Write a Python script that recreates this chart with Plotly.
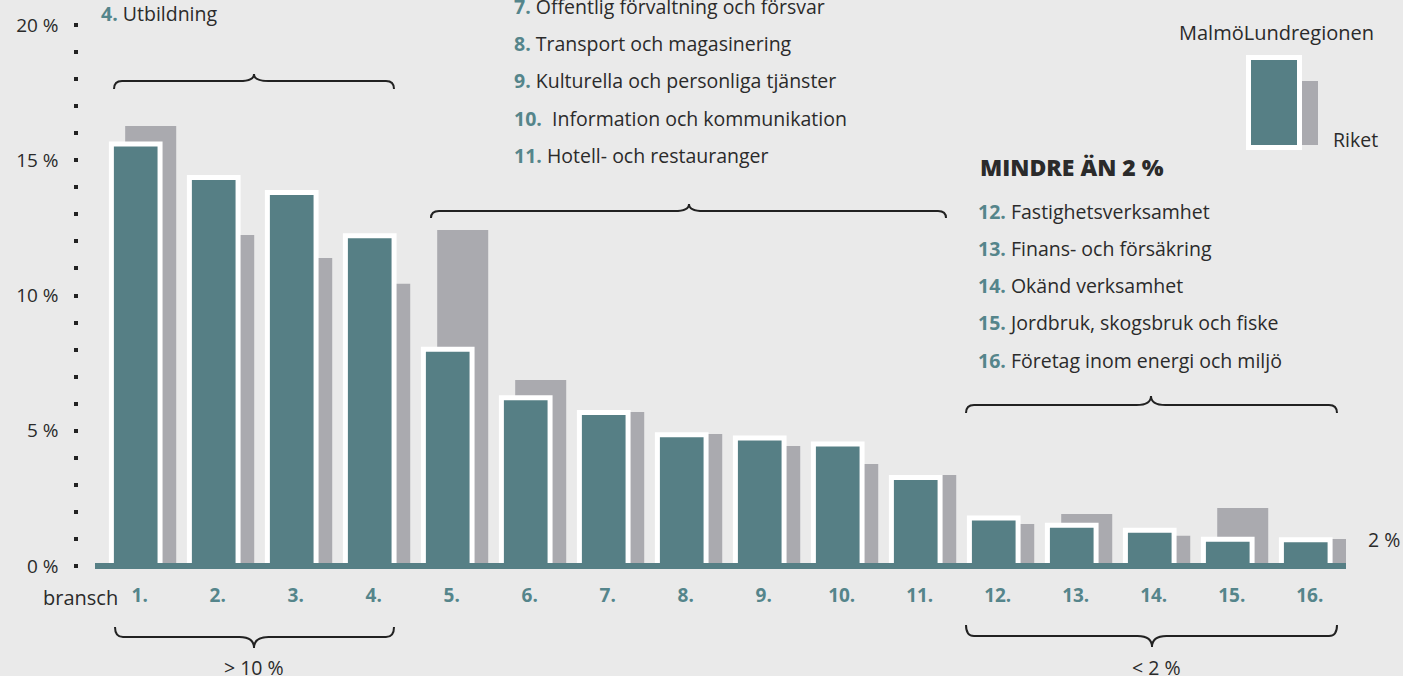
import plotly.graph_objects as go

# ── Data ──────────────────────────────────────────────────────────────────────
BRANSCH = list(range(1, 17))
BRANSCH_LABELS = [f"{i}." for i in BRANSCH]
MALMO_LUND = [15.6, 14.36, 13.81, 12.21, 8.01, 6.22, 5.67, 4.85,
              4.73, 4.51, 3.27, 1.77, 1.51, 1.32, 0.99, 0.97]
RIKET = [16.27, 12.24, 11.39, 10.43, 12.42, 6.88, 5.69, 4.88,
         4.44, 3.77, 3.36, 1.55, 1.92, 1.12, 2.14, 1.00]

TOP_LIST = [("4.", "Utbildning")]
MID_LIST = [("7.", "Offentlig förvaltning och försvar"),
            ("8.", "Transport och magasinering"),
            ("9.", "Kulturella och personliga tjänster"),
            ("10.", "&nbsp;Information och kommunikation"),
            ("11.", "Hotell- och restauranger")]
SMALL_LIST = [("12.", "Fastighetsverksamhet"),
              ("13.", "Finans- och försäkring"),
              ("14.", "Okänd verksamhet"),
              ("15.", "Jordbruk, skogsbruk och fiske"),
              ("16.", "Företag inom energi och miljö")]

# ── Style ─────────────────────────────────────────────────────────────────────
W, H = 1403, 676
BG = "#eaeaea"
TEAL = "#567f85"
NUM = "#55858b"
GRAY = "rgba(120,120,128,0.56)"
INK = "#2b2b2b"
FONT = "Open Sans, Noto Sans, sans-serif"
TXT = 19.5


def px(x):
    return x / W


def py(y):
    return 1 - y / H


def item(num, txt):
    return f"<b><span style='color:{NUM}'>{num}</span></b> {txt}"


def brace(x0, x1, xm, y_line, y_end, y_tip, r=8):
    p = [
        f"M {px(x0)},{py(y_end)}",
        f"Q {px(x0)},{py(y_line)} {px(x0 + r)},{py(y_line)}",
        f"L {px(xm - r * 1.8)},{py(y_line)}",
        f"Q {px(xm)},{py(y_line)} {px(xm)},{py(y_tip)}",
        f"Q {px(xm)},{py(y_line)} {px(xm + r * 1.8)},{py(y_line)}",
        f"L {px(x1 - r)},{py(y_line)}",
        f"Q {px(x1)},{py(y_line)} {px(x1)},{py(y_end)}",
    ]
    return dict(type="path", path=" ".join(p), xref="paper", yref="paper",
                line=dict(color="#222", width=2), layer="above")


fig = go.Figure()
fig.add_trace(go.Bar(
    x=BRANSCH, y=RIKET, name="Riket", width=0.654, offset=-0.186,
    marker=dict(color=GRAY, line=dict(width=0)),
))
fig.add_trace(go.Bar(
    x=BRANSCH, y=MALMO_LUND, name="MalmöLundregionen", width=0.624, offset=-0.363,
    marker=dict(color=TEAL, line=dict(color="white", width=5)),
))

y_lo, y_hi = -0.3, 20.924
dom_bottom = (H - (566 + 0.3 * 27.05)) / H

fig.update_layout(
    template="none",
    width=W, height=H,
    margin=dict(l=0, r=0, t=0, b=0),
    paper_bgcolor=BG, plot_bgcolor="rgba(0,0,0,0)",
    barmode="overlay", showlegend=False,
    font=dict(family=FONT, color=INK),
    xaxis=dict(
        domain=[px(95), px(1346)], range=[0.427, 16.465],
        tickvals=BRANSCH, ticktext=BRANSCH_LABELS,
        ticks="outside", ticklen=4, tickcolor="rgba(0,0,0,0)",
        tickfont=dict(size=19, color=NUM, weight="bold", family=FONT),
        showgrid=False, zeroline=False, showline=False,
    ),
    yaxis=dict(
        domain=[dom_bottom, 1], range=[y_lo, y_hi],
        anchor="free", position=px(78.3),
        tick0=0, dtick=5, ticksuffix=" %",
        ticks="outside", ticklen=4, tickwidth=4, tickcolor="#222",
        minor=dict(dtick=1, tick0=0, ticks="outside", ticklen=4, tickwidth=4,
                   tickcolor="#222", showgrid=False),
        tickfont=dict(size=19, color=INK, family=FONT),
        ticklabelstandoff=12,
        showgrid=False, zeroline=False, showline=False,
    ),
    yaxis2=dict(
        overlaying="y", range=[y_lo, y_hi], tick0=0, dtick=2,
        showgrid=True, gridcolor="white", gridwidth=2,
        showticklabels=False, ticks="", zeroline=False, showline=False,
    ),
)

shapes = [
    # baseline
    dict(type="line", xref="paper", yref="y", x0=px(95), x1=px(1346), y0=0, y1=0,
         line=dict(color=TEAL, width=6), layer="above"),
    # legend swatch
    dict(type="rect", xref="paper", yref="paper",
         x0=px(1302), x1=px(1318), y0=py(145), y1=py(81),
         fillcolor=GRAY, line=dict(width=0), layer="above"),
    dict(type="rect", xref="paper", yref="paper",
         x0=px(1248.5), x1=px(1299.5), y0=py(147.5), y1=py(57.5),
         fillcolor=TEAL, line=dict(color="white", width=5), layer="above"),
    brace(114, 394, 254, 81, 89, 74),
    brace(431, 946, 689, 211, 218, 204),
    brace(966, 1337, 1151, 405, 413, 396),
    brace(115, 394, 254, 637, 627, 648),
    brace(966, 1337, 1152, 636, 625, 647),
]
fig.update_layout(shapes=shapes)

ann = []


def text(x, y, s, size=TXT, anchor="left", **kw):
    ann.append(dict(x=px(x), y=py(y), xref="paper", yref="paper", text=s,
                    showarrow=False, xanchor=anchor, yanchor="middle",
                    font=dict(size=size, color=INK, family=FONT, **kw)))


for i, (n, t) in enumerate(TOP_LIST):
    text(99, 14 + 37.5 * i, item(n, t))
for i, (n, t) in enumerate(MID_LIST):
    text(512, 6 + 37.4 * i, item(n, t))
for i, (n, t) in enumerate(SMALL_LIST):
    text(976, 211 + 37.3 * i, item(n, t))

text(978, 167, "MINDRE ÄN 2 %", size=23, weight=800)
text(1376, 33, "MalmöLundregionen", anchor="right", size=20)
text(1331, 139, "Riket")
text(1366, 539, "2 %")
text(120, 597, "bransch", anchor="right", size=20)
text(254, 667, "&gt; 10 %", anchor="center")
text(1156, 667, "&lt; 2 %", anchor="center")

fig.update_layout(annotations=ann)

fig.write_html("out.html", config={"displayModeBar": False},
               post_script="document.body.style.margin='0';")
